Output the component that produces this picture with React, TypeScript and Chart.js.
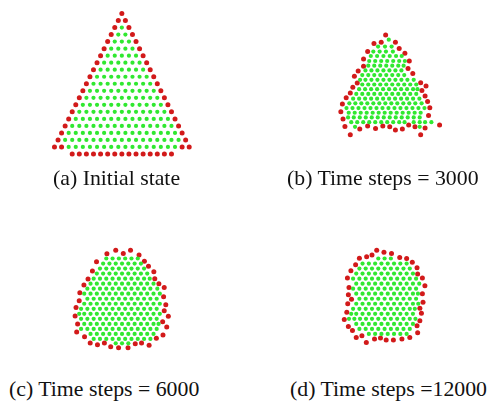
import React, { useEffect, useRef } from "react";
import { Chart, registerables } from "chart.js";

Chart.register(...registerables);

type Row = [number, number[]];
type Pair = [number, number];

// (a) Initial state: y = lattice row, x = offset in half-spacings
const aRedRows: Row[] = [
  [0, [0]], [1, [-1, 1]], [2, [-2, 2]], [3, [-3, 3]], [4, [-4, 4]], [5, [-5, 5]],
  [6, [-6, 6]], [7, [-7, 7]], [8, [-8, 8]], [9, [-9, 9]], [10, [-10, 10]],
  [11, [-11, 11]], [12, [-12, 12]], [13, [-13, 13]], [14, [-14, 14]], [15, [-15, 15]],
  [16, [-16, 16]], [17, [-17, 17]], [18, [-18, 18]], [19, [-19, -17, 17, 19]],
  [20, [-14, -12, -10, -8, -6, -4, -2, 0, 2, 4, 6, 8, 10, 12, 14]],
];
const aGreenRows: Row[] = [
  [2, [0]],
  [3, [-1, 1]],
  [4, [-2, 0, 2]],
  [5, [-3, -1, 1, 3]],
  [6, [-4, -2, 0, 2, 4]],
  [7, [-5, -3, -1, 1, 3, 5]],
  [8, [-6, -4, -2, 0, 2, 4, 6]],
  [9, [-7, -5, -3, -1, 1, 3, 5, 7]],
  [10, [-8, -6, -4, -2, 0, 2, 4, 6, 8]],
  [11, [-9, -7, -5, -3, -1, 1, 3, 5, 7, 9]],
  [12, [-10, -8, -6, -4, -2, 0, 2, 4, 6, 8, 10]],
  [13, [-11, -9, -7, -5, -3, -1, 1, 3, 5, 7, 9, 11]],
  [14, [-12, -10, -8, -6, -4, -2, 0, 2, 4, 6, 8, 10, 12]],
  [15, [-13, -11, -9, -7, -5, -3, -1, 1, 3, 5, 7, 9, 11, 13]],
  [16, [-14, -12, -10, -8, -6, -4, -2, 0, 2, 4, 6, 8, 10, 12, 14]],
  [17, [-15, -13, -11, -9, -7, -5, -3, -1, 1, 3, 5, 7, 9, 11, 13, 15]],
  [18, [-16, -14, -12, -10, -8, -6, -4, -2, 0, 2, 4, 6, 8, 10, 12, 14, 16]],
  [19, [-15, -13, -11, -9, -7, -5, -3, -1, 1, 3, 5, 7, 9, 11, 13, 15]],
];

// (b) Time steps = 3000
const bRed: Pair[] = [
  [197, 5], [160, 32], [183, 28], [228, 28], [240, 48], [140, 58], [258, 63], [127, 82],
  [272, 88], [127, 105], [268, 112], [110, 120], [283, 128], [98, 137], [107, 158], [308, 157],
  [325, 168], [93, 172], [85, 190], [312, 182], [322, 200], [72, 205], [330, 217], [60, 225],
  [337, 237], [55, 250], [333, 262], [62, 273], [368, 292], [68, 297], [322, 302], [85, 323],
  [308, 323], [115, 305], [140, 295], [165, 303], [188, 295], [210, 298], [228, 308], [250, 305],
  [270, 292], [290, 298],
];
const bGreenRows: Row[] = [
  [20, [207]],
  [42, [173, 195, 216]],
  [58, [158, 178, 198, 220]],
  [72, [150, 170, 190, 210, 230, 248]],
  [88, [145, 164, 183, 202, 221, 240, 258]],
  [103, [142, 161, 180, 199, 218, 237, 254]],
  [118, [133, 152, 171, 190, 209, 228, 247]],
  [133, [123, 142, 161, 180, 199, 218, 237, 256]],
  [148, [116, 133, 152, 171, 190, 209, 228, 247, 266, 286]],
  [163, [123, 142, 161, 180, 199, 218, 237, 256, 275, 294]],
  [178, [113, 132, 151, 170, 189, 208, 227, 246, 265, 284, 298]],
  [193, [104, 123, 142, 161, 180, 199, 218, 237, 256, 275, 294]],
  [208, [94, 113, 132, 151, 170, 189, 208, 227, 246, 265, 284, 304]],
  [223, [82, 101, 120, 139, 158, 177, 196, 215, 234, 253, 272, 291, 311]],
  [238, [73, 92, 111, 130, 149, 168, 187, 206, 225, 244, 263, 282, 301, 320]],
  [253, [80, 99, 118, 137, 156, 175, 194, 213, 232, 251, 270, 289, 308]],
  [268, [78, 96, 115, 134, 153, 172, 191, 210, 229, 248, 267, 286, 305]],
  [283, [88, 107, 126, 145, 164, 183, 202, 221, 240, 257, 286, 305, 322, 342]],
  [298, [100, 305]],
];

// (c) Time steps = 6000
const cRed: Pair[] = [
  [138, 33], [166, 22], [190, 32], [213, 22], [240, 37], [257, 57], [270, 73], [287, 90],
  [290, 112], [303, 128], [320, 140], [318, 170], [325, 195], [320, 214], [333, 232], [315, 249],
  [328, 266], [316, 291], [295, 302], [272, 324], [248, 317], [228, 319], [205, 332], [175, 332],
  [150, 329], [130, 317], [108, 322], [85, 317], [67, 297], [42, 282], [45, 256], [37, 231],
  [40, 204], [50, 182], [52, 157], [65, 132], [78, 113], [92, 88], [105, 58],
];
const cGreenRows: Row[] = [
  [48, [136, 156, 176, 196, 216, 236]],
  [64, [126, 146, 166, 186, 206, 226, 246]],
  [80, [116, 136, 156, 176, 196, 216, 236, 256]],
  [96, [106, 126, 146, 166, 186, 206, 226, 246, 266]],
  [112, [96, 116, 136, 156, 176, 196, 216, 236, 256, 274]],
  [128, [86, 106, 126, 146, 166, 186, 206, 226, 246, 266, 286]],
  [144, [76, 96, 116, 136, 156, 176, 196, 216, 236, 256, 276, 298]],
  [160, [66, 86, 106, 126, 146, 166, 186, 206, 226, 246, 266, 286, 306]],
  [176, [76, 96, 116, 136, 156, 176, 196, 216, 236, 256, 276, 296]],
  [192, [66, 86, 106, 126, 146, 166, 186, 206, 226, 246, 266, 286, 306]],
  [208, [56, 76, 96, 116, 136, 156, 176, 196, 216, 236, 256, 276, 296]],
  [224, [50, 66, 86, 106, 126, 146, 166, 186, 206, 226, 246, 266, 286, 306]],
  [240, [56, 76, 96, 116, 136, 156, 176, 196, 216, 236, 256, 276, 296]],
  [256, [66, 86, 106, 126, 146, 166, 186, 206, 226, 246, 266, 286, 302]],
  [272, [56, 76, 96, 116, 136, 156, 176, 196, 216, 236, 256, 276, 296]],
  [288, [86, 106, 126, 146, 166, 186, 206, 226, 246, 266, 286]],
  [304, [96, 116, 136, 156, 176, 196, 216, 236, 256, 276]],
  [318, [166, 186, 206]],
];

// (d) Time steps = 12000
const dRed: Pair[] = [
  [185, 22], [208, 28], [232, 32], [258, 45], [280, 48], [298, 60], [313, 77], [315, 97],
  [330, 110], [338, 135], [330, 160], [332, 187], [322, 206], [327, 222], [322, 246], [313, 262],
  [315, 284], [290, 299], [265, 304], [238, 307], [215, 307], [197, 301], [178, 304], [152, 315],
  [138, 294], [120, 299], [108, 277], [95, 264], [82, 242], [90, 219], [93, 192], [105, 178],
  [95, 163], [97, 140], [92, 110], [103, 87], [118, 68], [130, 47], [153, 42], [170, 37],
];
const dGreenRows: Row[] = [
  [48, [190, 210, 230]],
  [64, [140, 160, 180, 200, 220, 240, 260, 280]],
  [80, [130, 150, 170, 190, 210, 230, 250, 270, 290]],
  [96, [120, 140, 160, 180, 200, 220, 240, 260, 280, 300]],
  [112, [110, 130, 150, 170, 190, 210, 230, 250, 270, 290, 310]],
  [128, [120, 140, 160, 180, 200, 220, 240, 260, 280, 300, 320]],
  [144, [110, 130, 150, 170, 190, 210, 230, 250, 270, 290, 310]],
  [160, [120, 140, 160, 180, 200, 220, 240, 260, 280, 300, 316]],
  [176, [130, 150, 170, 190, 210, 230, 250, 270, 290, 310]],
  [192, [120, 140, 160, 180, 200, 220, 240, 260, 280, 300, 317]],
  [208, [110, 130, 150, 170, 190, 210, 230, 250, 270, 290, 306]],
  [224, [104, 120, 140, 160, 180, 200, 220, 240, 260, 280, 300]],
  [240, [97, 114, 132, 151, 170, 190, 210, 230, 250, 270, 290, 308]],
  [256, [120, 140, 160, 180, 200, 220, 240, 260, 280, 300]],
  [272, [130, 150, 170, 190, 210, 230, 250, 270, 290]],
  [288, [160, 180, 200, 220, 240, 260, 280]],
];

const captions = [
  "(a) Initial state",
  "(b) Time steps = 3000",
  "(c) Time steps = 6000",
  "(d) Time steps =12000",
];

const RED = "#d21a1a";
const GREEN = "#30e830";

const fromRows = (rows: Row[]) => rows.flatMap(([y, xs]) => xs.map((x) => ({ x, y })));
const fromPairs = (pairs: Pair[]) => pairs.map(([x, y]) => ({ x, y }));

interface PanelSpec {
  left: number;
  top: number;
  width: number;
  height: number;
  xr: [number, number];
  yr: [number, number];
  red: { x: number; y: number }[];
  green: { x: number; y: number }[];
}

const panels: PanelSpec[] = [
  { left: 40, top: 0, width: 170, height: 170, xr: [-21.96, 23.74], yr: [-1.357, 21.71], red: fromRows(aRedRows), green: fromRows(aGreenRows) },
  { left: 310, top: 20, width: 150, height: 135, xr: [-30, 420], yr: [-30, 375], red: fromPairs(bRed), green: fromRows(bGreenRows) },
  { left: 50, top: 230, width: 145, height: 140, xr: [-30, 405], yr: [-30, 390], red: fromPairs(cRed), green: fromRows(cGreenRows) },
  { left: 305, top: 230, width: 145, height: 140, xr: [-30, 405], yr: [-30, 390], red: fromPairs(dRed), green: fromRows(dGreenRows) },
];

const captionPos: [number, number][] = [
  [53, 167],
  [287, 167],
  [9, 378],
  [290, 378],
];

function Swarm({ spec }: { spec: PanelSpec }) {
  const ref = useRef<HTMLCanvasElement>(null);
  useEffect(() => {
    const chart = new Chart(ref.current as HTMLCanvasElement, {
      type: "scatter",
      data: {
        datasets: [
          { label: "interior", data: spec.green, backgroundColor: GREEN, borderWidth: 0, pointRadius: 2.1, clip: false } as any,
          { label: "boundary", data: spec.red, backgroundColor: RED, borderWidth: 0, pointRadius: 2.5, clip: false } as any,
        ],
      },
      options: {
        responsive: false,
        maintainAspectRatio: false,
        animation: false,
        events: [],
        layout: { padding: 0 },
        plugins: { legend: { display: false }, tooltip: { enabled: false } },
        scales: {
          x: { type: "linear", display: false, min: spec.xr[0], max: spec.xr[1] },
          y: { type: "linear", display: false, min: spec.yr[0], max: spec.yr[1], reverse: true },
        },
      },
    });
    return () => chart.destroy();
  }, [spec]);
  return (
    <canvas
      ref={ref}
      width={spec.width}
      height={spec.height}
      style={{ position: "absolute", left: spec.left, top: spec.top, width: spec.width, height: spec.height }}
    />
  );
}

export default function App() {
  return (
    <div style={{ position: "absolute", left: 0, top: 0, width: 490, height: 415, background: "#fff", overflow: "hidden" }}>
      {panels.map((p, i) => (
        <Swarm key={i} spec={p} />
      ))}
      {captions.map((c, i) => (
        <div
          key={c}
          style={{
            position: "absolute",
            left: captionPos[i][0],
            top: captionPos[i][1],
            fontFamily: '"Liberation Serif", "Times New Roman", serif',
            fontSize: "21.8px",
            lineHeight: "22px",
            color: "#111",
            whiteSpace: "nowrap",
          }}
        >
          {c}
        </div>
      ))}
    </div>
  );
}
